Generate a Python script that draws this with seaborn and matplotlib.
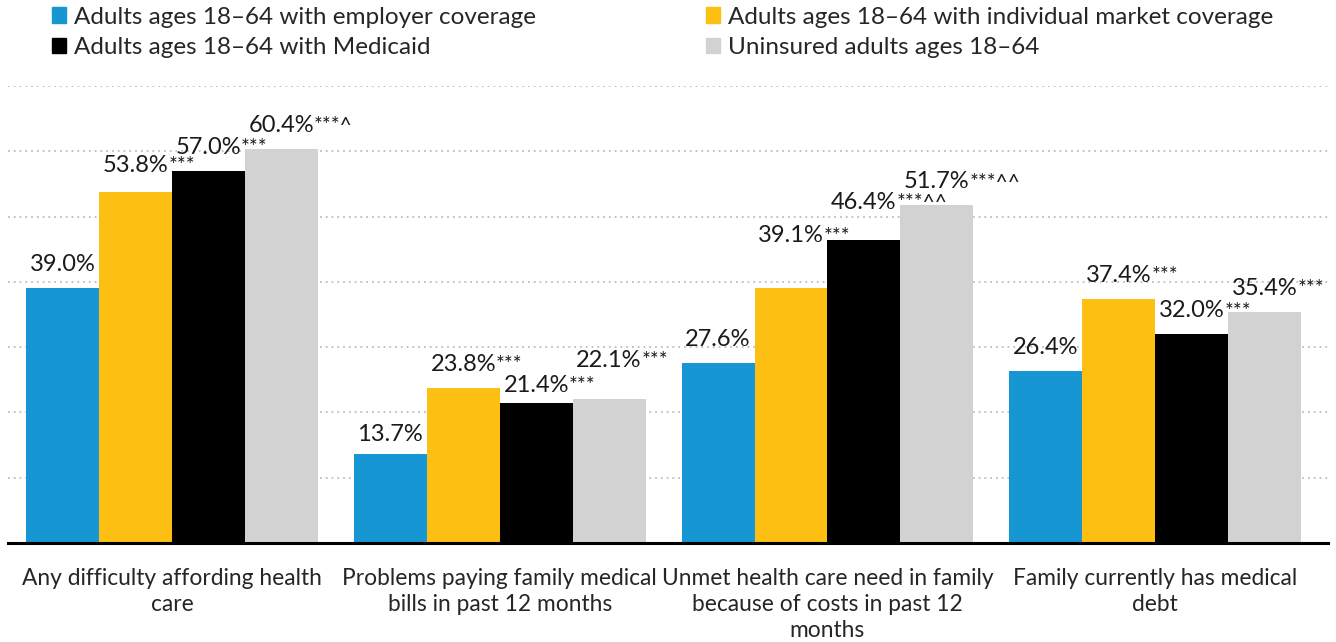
import textwrap
import pandas as pd
import matplotlib.pyplot as plt
import matplotlib.patches as mpatches
import seaborn as sns

# Chart data
categories = [
    "Any difficulty affording health care",
    "Problems paying family medical bills in past 12 months",
    "Unmet health care need in family because of costs in past 12 months",
    "Family currently has medical debt",
]
groups = [
    "Adults ages 18\u201364 with employer coverage",
    "Adults ages 18\u201364 with individual market coverage",
    "Adults ages 18\u201364 with Medicaid",
    "Uninsured adults ages 18\u201364",
]
employer = [39.0, 13.7, 27.6, 26.4]
individual = [53.8, 23.8, 39.1, 37.4]
medicaid = [57.0, 21.4, 46.4, 32.0]
uninsured = [60.4, 22.1, 51.7, 35.4]
employer_marks = ["", "", "", ""]
individual_marks = ["***", "***", "***", "***"]
medicaid_marks = ["***", "***", "***^^", "***"]
uninsured_marks = ["***^", "***", "***^^", "***"]

colors = ["#1696d2", "#fdbf11", "#000000", "#d2d2d2"]

rows = []
for g, vals, marks in zip(groups, [employer, individual, medicaid, uninsured],
                          [employer_marks, individual_marks, medicaid_marks, uninsured_marks]):
    for c, v, m in zip(categories, vals, marks):
        rows.append({"category": c, "group": g, "value": v, "mark": m})
df = pd.DataFrame(rows)

sns.set_style("white")
plt.rcParams["font.family"] = ["Lato", "DejaVu Sans"]

fig = plt.figure(figsize=(13.36, 6.42), dpi=100)
ax = fig.add_axes([8 / 1336, 1 - 543 / 642, 1320 / 1336, 457 / 642])

sns.barplot(data=df, x="category", y="value", hue="group", hue_order=groups,
            order=categories, palette=colors, width=0.89, gap=0,
            linewidth=0, saturation=1, ax=ax, legend=False)

ax.set_ylim(0, 70)
ax.set_xlim(-0.5, 3.527)
ax.set_yticks(range(10, 71, 10))
ax.set_yticklabels([])
ax.tick_params(axis="y", length=0)
ax.tick_params(axis="x", length=0, pad=18)
ax.yaxis.grid(True, linestyle=(0, (1, 2.2)), color="#bdbdbd", linewidth=1.3)
ax.set_axisbelow(True)
for s in ["top", "right", "left"]:
    ax.spines[s].set_visible(False)
ax.spines["bottom"].set_linewidth(2.2)
ax.spines["bottom"].set_color("black")
ax.set_xlabel("")
ax.set_ylabel("")
ax.set_xticks(range(len(categories)))
ax.set_xticklabels([textwrap.fill(c, 32) for c in categories], fontsize=16.4,
                   linespacing=1.3, va="top")

# lift / drop a few labels, as in the original layout
nudge = {(2, 1): 4.4, (2, 2): 2.2, (1, 3): 2.3, (0, 1): 0.5,
         (1, 0): -0.7, (1, 2): -0.8}

for gi, container in enumerate(ax.containers):
    for ci, bar in enumerate(container):
        g = groups[gi]
        c = categories[ci]
        row = df[(df.group == g) & (df.category == c)].iloc[0]
        x = bar.get_x() + bar.get_width() / 2
        y = bar.get_height() + 2.6 + nudge.get((ci, gi), 0)
        t = ax.text(x, y, f"{row.value:.1f}%", ha="center", va="baseline",
                    fontsize=17, color="#1a1a1a")
        if row.mark:
            ax.annotate(row.mark, xy=(1, 0.93), xycoords=t, ha="left", va="top",
                        fontsize=15, color="#1a1a1a")

handles = [mpatches.Patch(color=col, label=g) for col, g in zip(colors, groups)]
order = [0, 2, 1, 3]
fig.legend([handles[i] for i in order], [groups[i] for i in order],
           ncol=2, loc="upper left", bbox_to_anchor=(42 / 1336, 1.005),
           frameon=False, fontsize=17.5, handlelength=0.6, handleheight=0.6,
           handletextpad=0.3, columnspacing=7.0, labelspacing=0.4,
           borderaxespad=0)

fig.savefig("out.png", dpi=100)
